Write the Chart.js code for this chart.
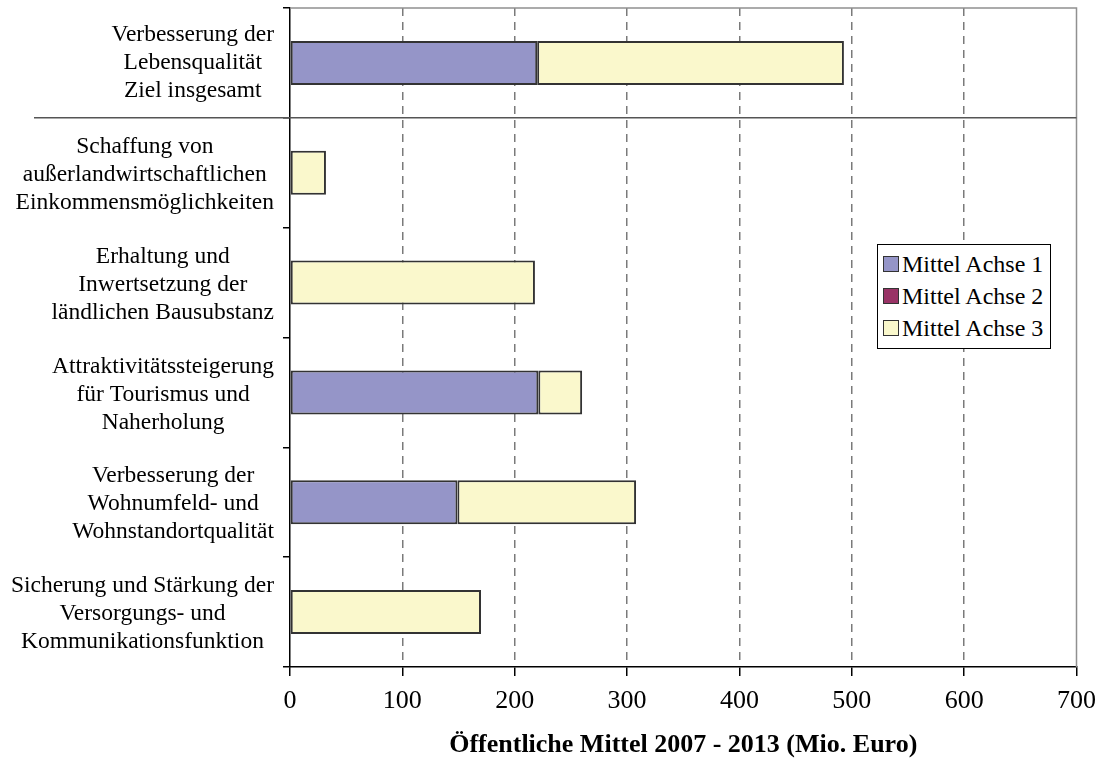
<!DOCTYPE html>
<html>
<head>
<meta charset="utf-8">
<script src="https://cdn.jsdelivr.net/npm/chart.js@4.4.1/dist/chart.umd.min.js"></script>
<style>
  body { margin: 0; background: #fff; }
  #wrap { position: relative; width: 1106px; height: 764px; }
  #legend {
    position: absolute; left: 877px; top: 244px; width: 172px;
    border: 1px solid #000; background: #fff; padding: 3px 0 4px 0;
    font-family: "Liberation Serif", "Times New Roman", serif; font-size: 24px; color: #000;
  }
  #legend .item { height: 32px; line-height: 32px; white-space: nowrap; padding-left: 5px; }
  #legend .box {
    display: inline-block; width: 14px; height: 14px; border: 1px solid #333;
    vertical-align: middle; margin-right: 3px; position: relative; top: -2px;
  }
</style>
</head>
<body>
<div id="wrap">
  <canvas id="chartMittel" width="1106" height="764"></canvas>
  <div id="legend"></div>
</div>
<script>
const categories = [
  ['Verbesserung der', 'Lebensqualität', 'Ziel insgesamt'],
  ['Schaffung von', 'außerlandwirtschaftlichen', 'Einkommensmöglichkeiten'],
  ['Erhaltung und', 'Inwertsetzung der', 'ländlichen Bausubstanz'],
  ['Attraktivitätssteigerung', 'für Tourismus und', 'Naherholung'],
  ['Verbesserung der', 'Wohnumfeld- und', 'Wohnstandortqualität'],
  ['Sicherung und Stärkung der', 'Versorgungs- und', 'Kommunikationsfunktion']
];
const seriesNames = ['Mittel Achse 1', 'Mittel Achse 2', 'Mittel Achse 3'];
const achse1 = [220, 0, 0, 221, 149, 0];
const achse2 = [0, 0, 0, 0, 0, 0];
const achse3 = [273, 32, 218, 39, 159, 170];
const xTicks = [0, 100, 200, 300, 400, 500, 600, 700];

const serif = '"Liberation Serif", "Times New Roman", serif';
const colors = ['#9595c8', '#993366', '#faf8cc'];

// category labels: each block right aligned, lines centred inside the block
const catLabels = {
  id: 'catLabels',
  afterDraw(chart) {
    const ctx = chart.ctx, y = chart.scales.y;
    ctx.save();
    ctx.font = '23.5px ' + serif;
    ctx.fillStyle = '#000';
    ctx.textAlign = 'center';
    ctx.textBaseline = 'middle';
    const lh = 28;
    categories.forEach((lines, i) => {
      const w = Math.max(...lines.map(l => ctx.measureText(l).width));
      const cx = 274 - w / 2;
      const cy = y.getPixelForValue(i) + (i === 0 ? 0 : 2);
      lines.forEach((l, j) => {
        ctx.fillText(l, cx, cy + (j - (lines.length - 1) / 2) * lh);
      });
    });
    ctx.restore();
  }
};

// frame lines and the separator below the first category
const frame = {
  id: 'frame',
  beforeDatasetsDraw(chart) {
    const ctx = chart.ctx, a = chart.chartArea, y = chart.scales.y;
    ctx.save();
    ctx.strokeStyle = '#909090';
    ctx.lineWidth = 1.5;
    ctx.beginPath();
    ctx.moveTo(a.left, a.top); ctx.lineTo(a.right, a.top); ctx.lineTo(a.right, a.bottom);
    ctx.stroke();
    const sep = (y.getPixelForValue(0) + y.getPixelForValue(1)) / 2;
    ctx.strokeStyle = '#555';
    ctx.beginPath();
    ctx.moveTo(34, sep); ctx.lineTo(a.right, sep);
    ctx.stroke();
    ctx.restore();
  }
};

const data = {
  labels: categories,
  datasets: [achse1, achse2, achse3].map((vals, i) => ({
    label: seriesNames[i],
    data: vals,
    backgroundColor: colors[i],
    borderColor: '#333',
    borderWidth: 2,
    borderSkipped: false
  }))
};

const config = {
  type: 'bar',
  data: data,
  options: {
    indexAxis: 'y',
    responsive: false,
    animation: false,
    layout: { padding: { top: 8, right: 27, left: 0, bottom: 0 } },
    datasets: { bar: { categoryPercentage: 1, barPercentage: 0.4 } },
    plugins: { legend: { display: false }, tooltip: { enabled: false } },
    scales: {
      x: {
        stacked: true,
        min: 0, max: 700,
        afterBuildTicks(scale) { scale.ticks = xTicks.map(v => ({ value: v })); },
        afterFit(scale) { scale.height = 97; },
        ticks: { font: { family: serif, size: 26 }, color: '#000', padding: 10, maxRotation: 0 },
        grid: {
          color: ctx => (ctx.tick && (ctx.tick.value === 0 || ctx.tick.value === 700)) ? 'rgba(0,0,0,0)' : '#7a7a7a',
          lineWidth: 1.5,
          tickColor: '#000',
          tickLength: 9,
          tickBorderDash: [],
          drawTicks: true
        },
        border: { color: '#000', width: 1.5, dash: [8, 6] },
        title: {
          display: true,
          text: 'Öffentliche Mittel 2007 - 2013 (Mio. Euro)',
          font: { family: serif, size: 26, weight: 'bold' },
          color: '#000',
          padding: { top: 0, bottom: 3 }
        }
      },
      y: {
        stacked: true,
        afterFit(scale) { scale.width = 290; },
        ticks: { display: false },
        grid: { offset: true, drawOnChartArea: false, tickLength: 7, color: '#000', lineWidth: 1.5 },
        border: { color: '#000', width: 1.5 }
      }
    }
  },
  plugins: [frame, catLabels]
};

const ctxMittel = document.getElementById('chartMittel').getContext('2d');
window.myBar = new Chart(ctxMittel, config);

// legend from the datasets
const legend = document.getElementById('legend');
seriesNames.forEach((name, i) => {
  const row = document.createElement('div');
  row.className = 'item';
  const sw = document.createElement('span');
  sw.className = 'box';
  sw.style.background = colors[i];
  row.appendChild(sw);
  row.appendChild(document.createTextNode(name));
  legend.appendChild(row);
});
</script>
</body>
</html>
